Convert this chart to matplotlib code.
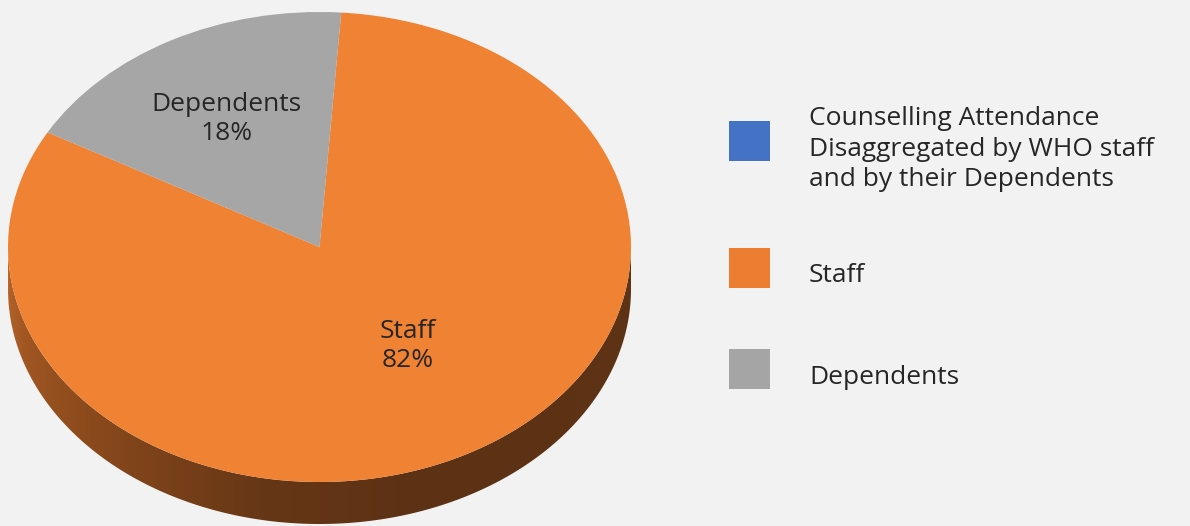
# 3D-style pie of counselling attendance, staff vs dependents

import matplotlib.pyplot as plt
import numpy as np
from matplotlib.patches import Rectangle, Polygon

# Data
categories = ["Staff", "Dependents"]
shares = [82, 18]
legend_labels = ["Counselling Attendance\nDisaggregated by WHO staff\nand by their Dependents",
                 "Staff", "Dependents"]

# Colours
bg_col = "#f2f2f2"
staff_col = "#ef8233"
dep_col = "#a6a6a6"
legend_cols = ["#4472c4", "#ed7d31", "#a5a5a5"]
text_col = "#262626"
font = "Open Sans"
fs = 19

W, H = 1190, 526
fig = plt.figure(figsize=(W / 100, H / 100), dpi=100)
fig.patch.set_facecolor(bg_col)

# pie axes on the left, x/y scaled so the unit circle becomes the tilted top face
ax = fig.add_axes([0, 0, 640 / W, 1])
wedges, _ = ax.pie(shares, colors=[staff_col, dep_col], startangle=86, counterclock=False,
                   radius=1, center=(0, 0), wedgeprops=dict(linewidth=0), frame=False)
for w in wedges:
    w.set_zorder(2)
ax.set_aspect("auto")
cx, cy, rx, ry = 319.5, 247, 311.5, 235

# side of the disc: one polygon filled with a left-to-right brown gradient
depth = 42 / ry
t = np.linspace(np.pi, 2 * np.pi, 300)
side_x = np.concatenate([np.cos(t), np.cos(t[::-1])])
side_y = np.concatenate([np.sin(t), np.sin(t[::-1]) - depth])
side = Polygon(np.column_stack([side_x, side_y]), closed=True, fc="none", ec="none")
ax.add_patch(side)

key_ang = np.array([180, 200, 230, 260, 290, 360])
key_rgb = np.array([[0xb8, 0x66, 0x2c], [0xa0, 0x56, 0x22], [0x84, 0x46, 0x1b],
                    [0x66, 0x37, 0x16], [0x5c, 0x31, 0x14], [0x5e, 0x33, 0x16]]) / 255
gx = np.linspace(-1, 1, 600)
gang = 360 - np.degrees(np.arccos(gx))
grad = np.stack([np.interp(gang, key_ang, key_rgb[:, k]) for k in range(3)], axis=-1)
img = ax.imshow(grad[np.newaxis, :, :], extent=(-1, 1, -1 - depth, 0.1), aspect="auto",
                zorder=1, interpolation="bilinear")
img.set_clip_path(side)
ax.set_xlim(-cx / rx, (640 - cx) / rx)
ax.set_ylim((cy - H) / ry, cy / ry)
ax.axis("off")

# slice labels
label_r = [0.50, 0.63]
label_shift = [6, 0]
for w, name, val, r, sh in zip(wedges, categories, shares, label_r, label_shift):
    ang = np.radians(0.5 * (w.theta1 + w.theta2) + sh)
    ax.text(r * np.cos(ang), r * np.sin(ang) - 0.01, f"{name}\n{val}%", ha="center",
            va="center", fontsize=fs, color=text_col, family=font, linespacing=1.22, zorder=3)

# legend, drawn in pixel coordinates
lg = fig.add_axes([0, 0, 1, 1])
lg.set_xlim(0, W)
lg.set_ylim(H, 0)
lg.axis("off")
box_y = [121, 248, 349]
for y, col, lab in zip(box_y, legend_cols, legend_labels):
    lg.add_patch(Rectangle((729, y), 41, 40, color=col, lw=0))
    lg.text(809, y + 28, lab, ha="left", va="center", fontsize=fs, color=text_col,
            family=font, linespacing=1.3)

fig.savefig("out.png", dpi=100, facecolor=bg_col)
